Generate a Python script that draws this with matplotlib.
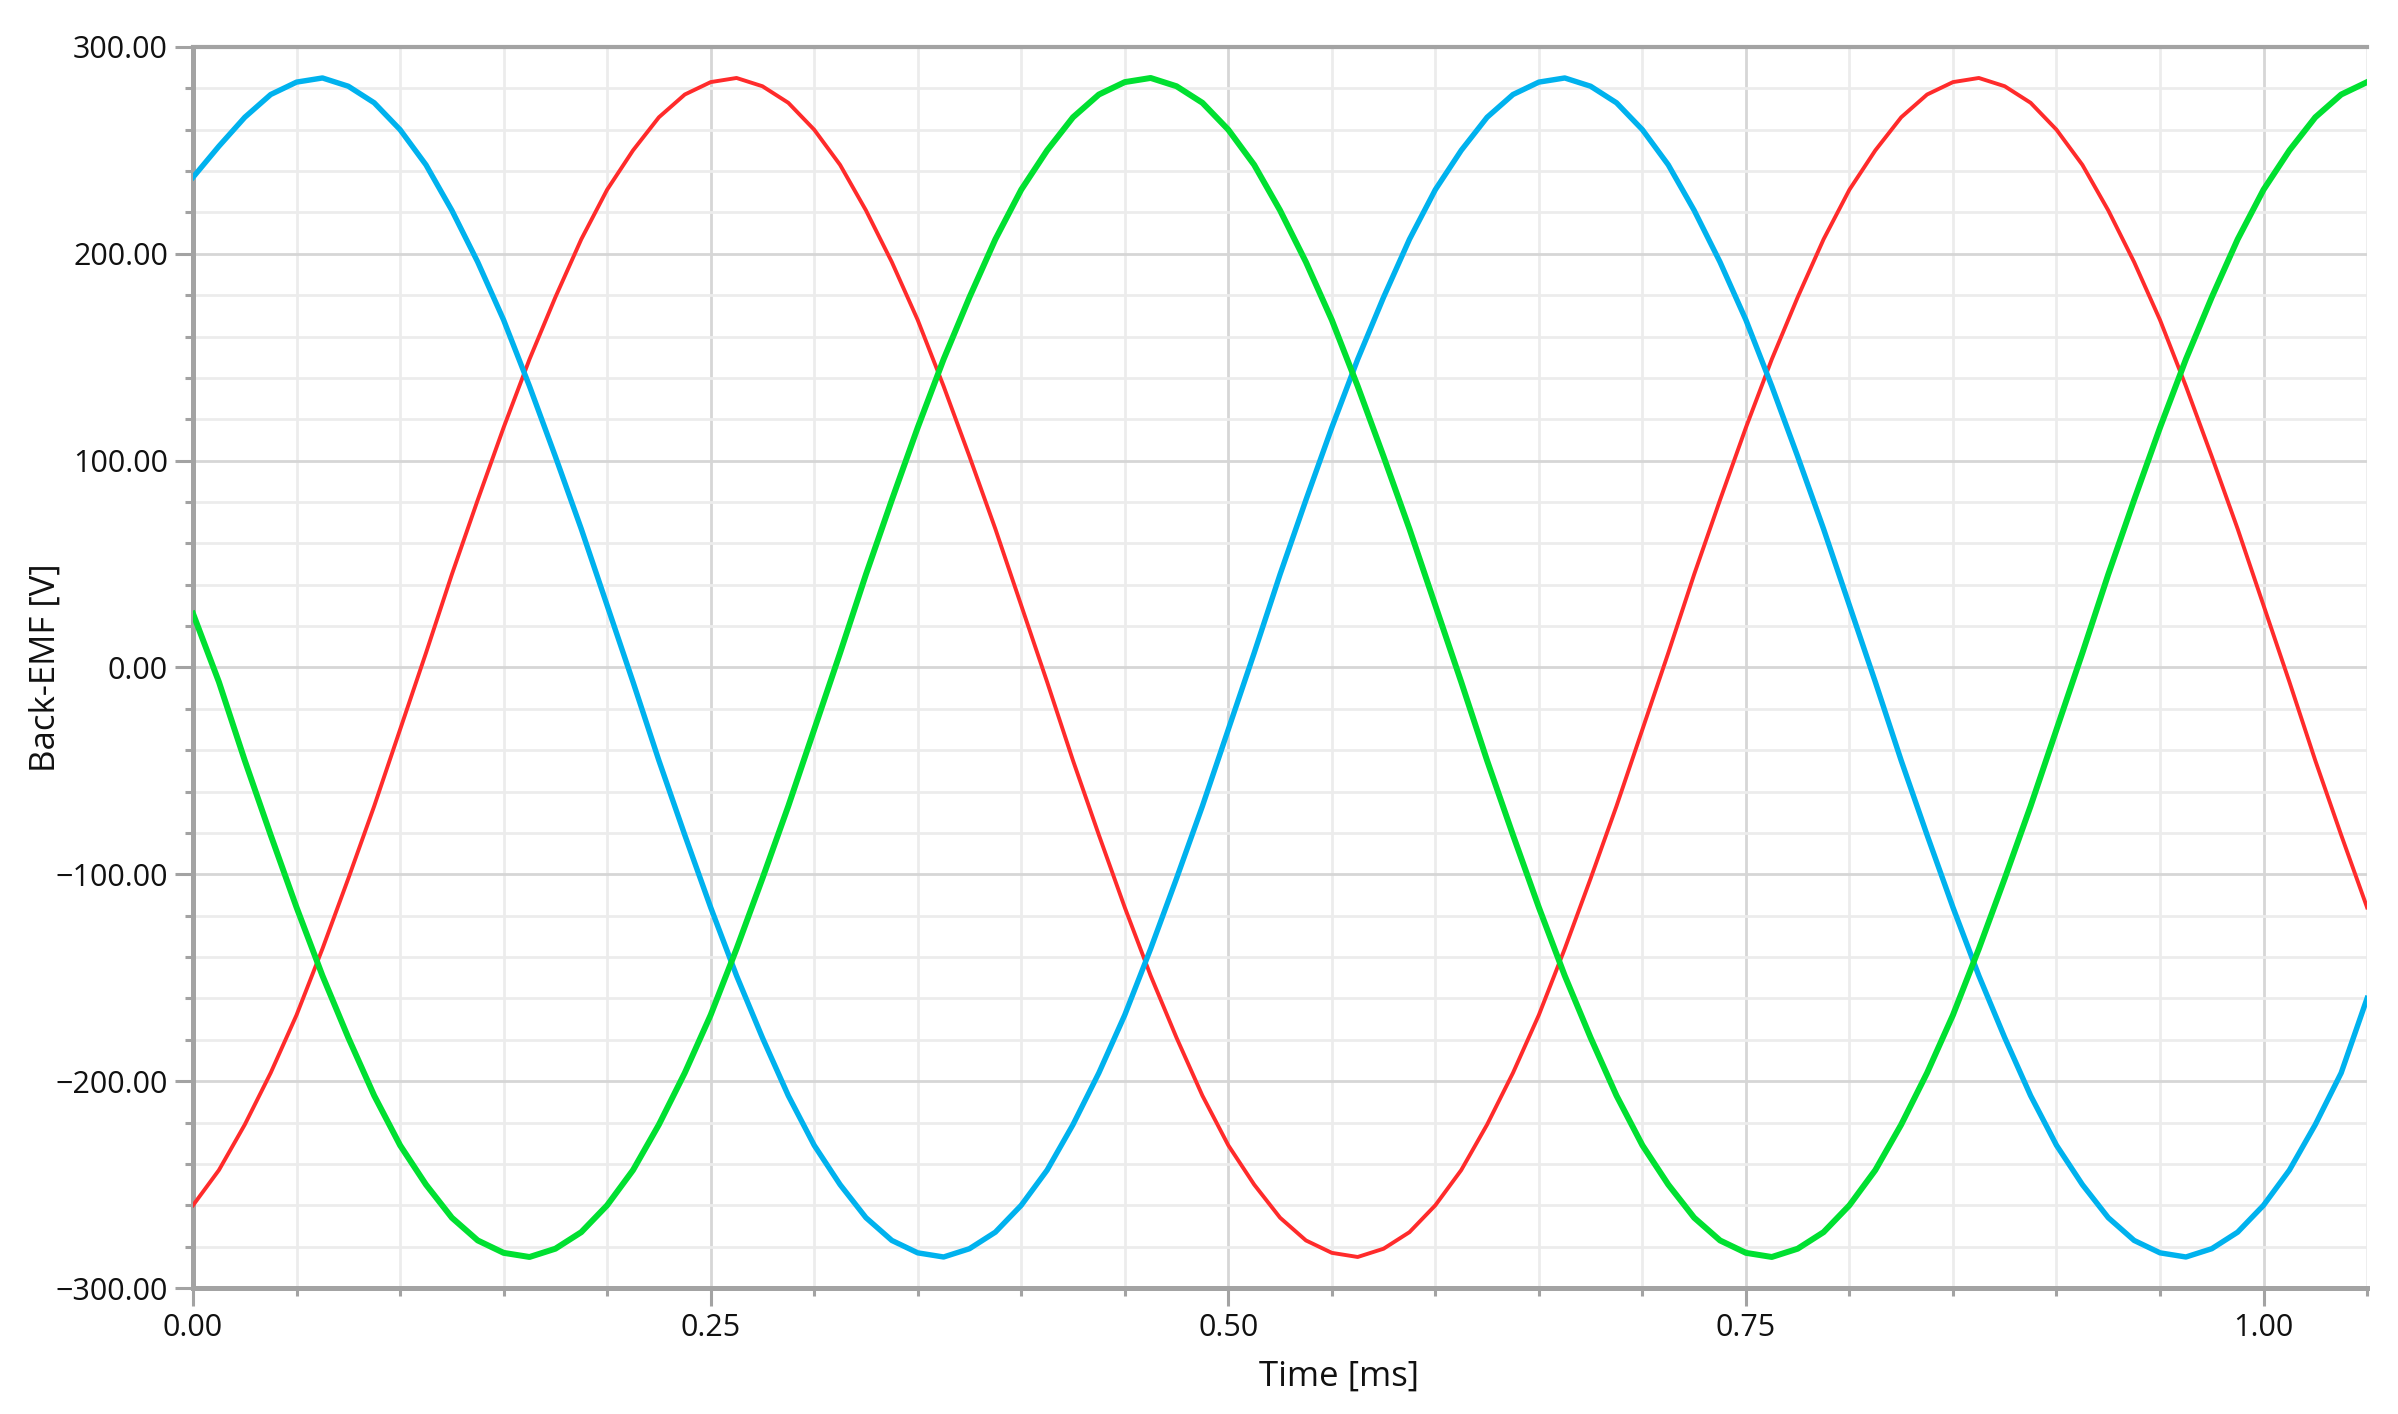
import matplotlib
matplotlib.use("Agg")
import matplotlib.pyplot as plt
from matplotlib.ticker import MultipleLocator, FuncFormatter

plt.rcParams['font.family'] = ['Open Sans', 'DejaVu Sans']

time_ms = [i * 0.0125 for i in range(85)]
phase_red = [-260, -243, -221, -196, -168, -136, -102, -67, -30, 7, 45, 81, 116,
             149, 179, 207, 231, 250, 266, 277, 283,
             285, 281, 273, 260, 243, 221, 196, 168, 136, 102, 67, 30, -7, -45,
             -81, -116, -149, -179, -207, -231, -250, -266, -277, -283, -285,
             -281, -273, -260, -243, -221, -196, -168, -136, -102, -67, -30, 7,
             45, 81, 116, 149, 179, 207, 231, 250, 266, 277, 283,
             285, 281, 273, 260, 243, 221, 196, 168, 136, 102, 67, 30, -7, -45,
             -81, -116]
phase_blue = [237, 252, 266, 277, 283,
              285, 281, 273, 260, 243, 221, 196, 168, 136, 102, 67, 30, -7, -45,
              -81, -116, -149, -179, -207, -231, -250, -266, -277, -283, -285,
              -281, -273, -260, -243, -221, -196, -168, -136, -102, -67, -30, 7,
              45, 81, 116, 149, 179, 207, 231, 250, 266, 277, 283,
              285, 281, 273, 260, 243, 221, 196, 168, 136, 102, 67, 30, -7, -45,
              -81, -116, -149, -179, -207, -231, -250, -266, -277, -283, -285,
              -281, -273, -260, -243, -221, -196, -160]
phase_green = [26, -7, -45, -81, -116, -149, -179, -207, -231, -250, -266, -277,
               -283, -285, -281, -273, -260, -243, -221, -196, -168, -136, -102,
               -67, -30, 7, 45, 81, 116, 149, 179, 207, 231, 250, 266, 277, 283,
               285, 281, 273, 260, 243, 221, 196, 168, 136, 102, 67, 30, -7, -45,
               -81, -116, -149, -179, -207, -231, -250, -266, -277, -283, -285,
               -281, -273, -260, -243, -221, -196, -168, -136, -102, -67, -30, 7,
               45, 81, 116, 149, 179, 207, 231, 250, 266, 277, 283]

fig = plt.figure(figsize=(23.98, 14.14), dpi=100)
ax = fig.add_axes([0.0805, 0.0891, 0.9066, 0.8777])

ax.plot(time_ms, phase_red, color='#ff2b2b', lw=2.8, zorder=3, solid_joinstyle='round')
ax.plot(time_ms, phase_blue, color='#00b2ee', lw=3.9, zorder=4, solid_joinstyle='round')
ax.plot(time_ms, phase_green, color='#00e031', lw=4.3, zorder=5, solid_joinstyle='round')

ax.set_xlim(0, 1.05)
ax.set_ylim(-300, 300)

fmt = FuncFormatter(lambda v, pos: f'{v:.2f}'.replace('-', '\u2212'))
ax.xaxis.set_major_locator(MultipleLocator(0.25))
ax.xaxis.set_minor_locator(MultipleLocator(0.05))
ax.yaxis.set_major_locator(MultipleLocator(100))
ax.yaxis.set_minor_locator(MultipleLocator(20))
ax.xaxis.set_major_formatter(fmt)
ax.yaxis.set_major_formatter(fmt)

# grid
ax.grid(which='major', color='#d6d6d6', lw=2.0, zorder=0)
ax.grid(which='minor', color='#ececec', lw=2.0, zorder=0)
ax.set_axisbelow(True)

# spines
for side in ['left', 'bottom', 'top']:
    ax.spines[side].set_color('#a3a3a3')
    ax.spines[side].set_linewidth(3.6)
ax.spines['top'].set_linewidth(3.0)
ax.spines['right'].set_visible(False)

ax.tick_params(which='major', length=13, width=2.2, color='#a3a3a3',
               labelsize=22, labelcolor='#111111', pad=5)
ax.tick_params(which='minor', length=6, width=2.2, color='#a3a3a3')

ax.set_xlabel('Time [ms]', fontsize=25, color='#111111')
ax.set_ylabel('Back-EMF [V]', fontsize=25, color='#111111')
ax.xaxis.set_label_coords(0.527, -0.058)
ax.yaxis.set_label_coords(-0.060, 0.5)

fig.savefig('out.png', dpi=100)
